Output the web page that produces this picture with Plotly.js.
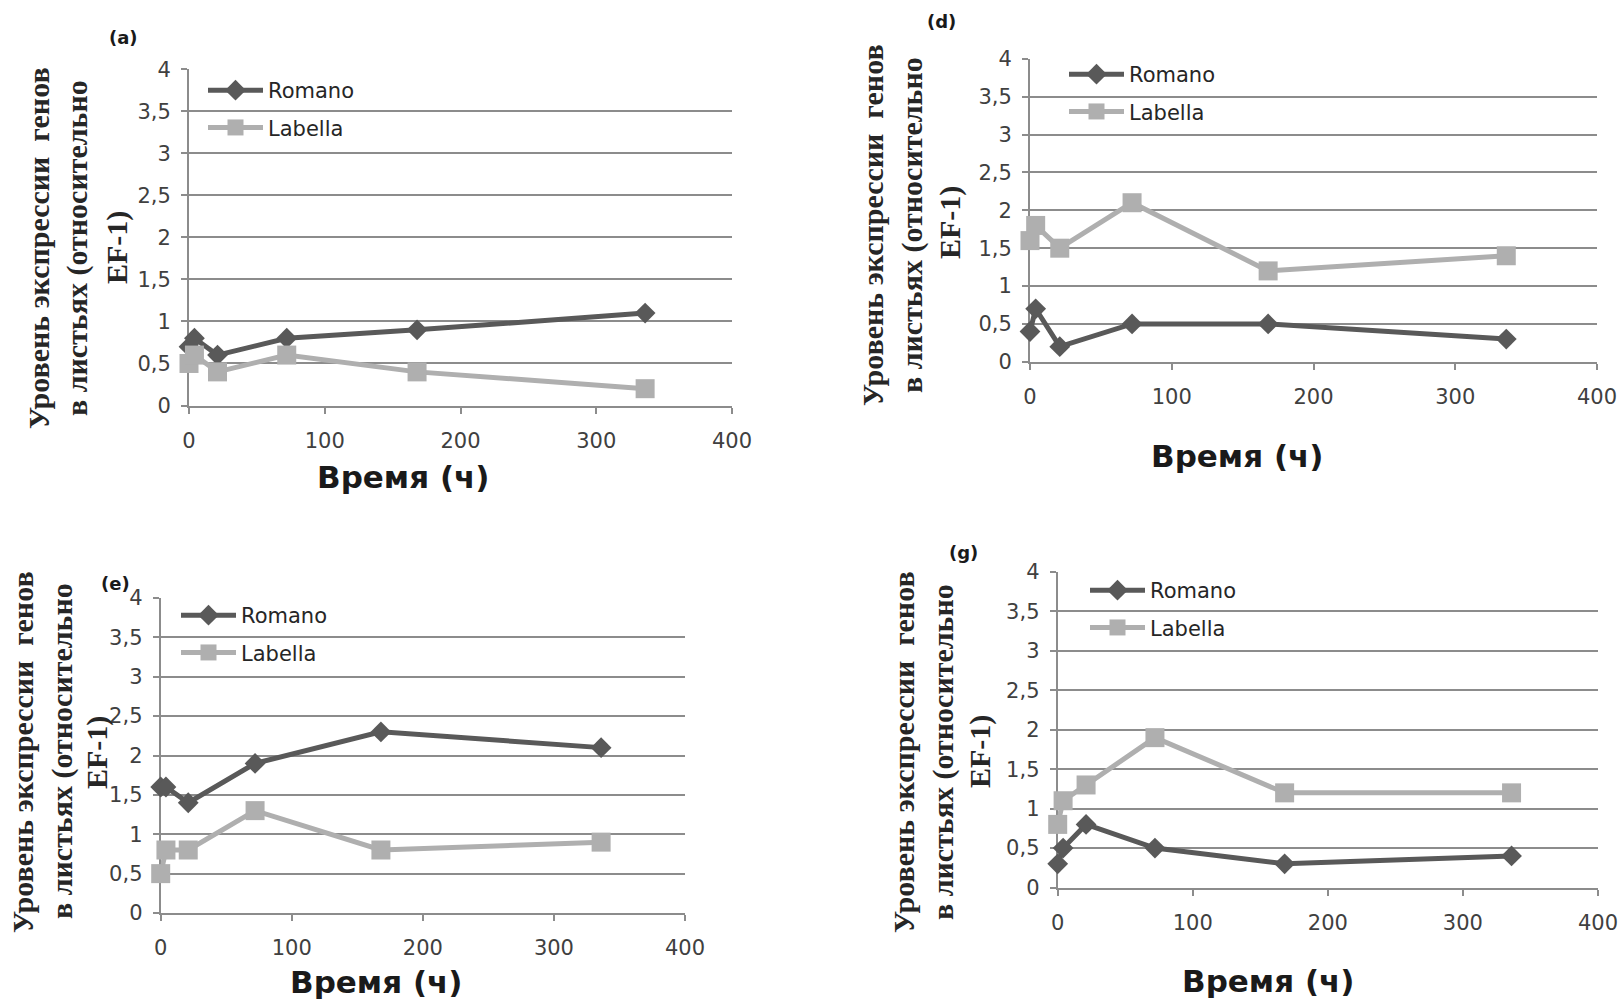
<!DOCTYPE html>
<html>
<head>
<meta charset="utf-8">
<script src="https://cdn.plot.ly/plotly-3.0.1.min.js"></script>
<style>html,body{margin:0;padding:0;background:#fff;}#chart{width:1621px;height:1005px;}</style>
</head>
<body>
<div id="chart"></div>
<script>
// ---- data ----
const timeHours = [0, 4, 21, 72, 168, 336];
const romanoA  = [0.7, 0.8, 0.6, 0.8, 0.9, 1.1];
const labellaA = [0.5, 0.6, 0.4, 0.6, 0.4, 0.2];
const romanoD  = [0.4, 0.7, 0.2, 0.5, 0.5, 0.3];
const labellaD = [1.6, 1.8, 1.5, 2.1, 1.2, 1.4];
const romanoE  = [1.6, 1.6, 1.4, 1.9, 2.3, 2.1];
const labellaE = [0.5, 0.8, 0.8, 1.3, 0.8, 0.9];
const romanoG  = [0.3, 0.5, 0.8, 0.5, 0.3, 0.4];
const labellaG = [0.8, 1.1, 1.3, 1.9, 1.2, 1.2];
const seriesNames = ['Romano', 'Labella'];
const panelLabels = ['(a)', '(d)', '(e)', '(g)'];
const yTickVals = [0, 0.5, 1, 1.5, 2, 2.5, 3, 3.5, 4];
const yTickText = ['0', '0,5', '1', '1,5', '2', '2,5', '3', '3,5', '4'];
const xTickVals = [0, 100, 200, 300, 400];
const xTickText = ['0', '100', '200', '300', '400'];
const yTitleLines = ['Уровень экспрессии\u00a0\u00a0генов', 'в листьях (относительно', 'EF-1)'];
const xTitle = 'Время (ч)';

// ---- layout geometry (pixels) ----
const W = 1621, H = 1005;
const px = v => v / W;
const py = v => 1 - v / H;
const panels = [
  {x0: 189, x1: 732, yTop: 69.3, yBot: 405.5, r: romanoA, l: labellaA,
   yt: [[38,248],[77,248],[117,248]], xt: [403,477], lab: [123,37], leg: [203, 70]},
  {x0: 1030, x1: 1597, yTop: 58.8, yBot: 361.8, r: romanoD, l: labellaD,
   yt: [[873,225],[912,225],[950,223]], xt: [1237,456], lab: [942,22], leg: [1064, 54]},
  {x0: 160.7, x1: 685, yTop: 598, yBot: 913, r: romanoE, l: labellaE,
   yt: [[22,752],[62,751],[97,753]], xt: [376,982], lab: [115,583], leg: [176, 595]},
  {x0: 1057.7, x1: 1598, yTop: 572, yBot: 887.5, r: romanoG, l: labellaG,
   yt: [[903,752],[943,752],[980,752]], xt: [1268,981], lab: [963,552], leg: [1085, 570]}
];

const romanoColor = '#595959';
const labellaColor = '#afafaf';
const gridColor = '#8c8c8c';
const tickFont = {family: 'DejaVu Sans', size: 21, color: '#404040'};

const data = [];
const layout = {
  width: W, height: H,
  margin: {l: 0, r: 0, t: 0, b: 0},
  paper_bgcolor: '#ffffff', plot_bgcolor: '#ffffff',
  showlegend: true, hovermode: false,
  annotations: []
};

panels.forEach((p, i) => {
  const n = i === 0 ? '' : String(i + 1);
  const legName = 'legend' + n;
  data.push({
    x: timeHours, y: p.r, name: seriesNames[0], type: 'scatter', mode: 'lines+markers',
    xaxis: 'x' + n, yaxis: 'y' + n, legend: legName, legendgroup: 'r' + i, cliponaxis: false,
    line: {color: romanoColor, width: 5},
    marker: {symbol: 'diamond', size: 16, color: romanoColor}
  });
  data.push({
    x: timeHours, y: p.l, name: seriesNames[1], type: 'scatter', mode: 'lines+markers',
    xaxis: 'x' + n, yaxis: 'y' + n, legend: legName, legendgroup: 'l' + i, cliponaxis: false,
    line: {color: labellaColor, width: 5},
    marker: {symbol: 'square', size: 19, color: labellaColor}
  });
  layout['xaxis' + n] = {
    domain: [px(p.x0), px(p.x1)], anchor: 'y' + n, range: [0, 400],
    tickvals: xTickVals, ticktext: xTickText, tickfont: tickFont,
    showgrid: false, zeroline: false, showline: true, linecolor: gridColor, linewidth: 2,
    ticks: 'outside', ticklen: 6, tickwidth: 2, tickcolor: gridColor,
    ticklabelstandoff: 9, layer: 'below traces', fixedrange: true
  };
  layout['yaxis' + n] = {
    domain: [py(p.yBot), py(p.yTop)], anchor: 'x' + n, range: [0, 4],
    tickvals: yTickVals, ticktext: yTickText, tickfont: tickFont,
    showgrid: true, gridcolor: gridColor, gridwidth: 2, zeroline: false,
    showline: true, linecolor: gridColor, linewidth: 2,
    ticks: 'outside', ticklen: 6, tickwidth: 2, tickcolor: gridColor,
    ticklabelstandoff: 6, layer: 'below traces', fixedrange: true
  };
  layout[legName] = {
    x: px(p.leg[0]), y: py(p.leg[1]), xanchor: 'left', yanchor: 'top',
    bgcolor: 'rgba(0,0,0,0)', borderwidth: 0,
    font: {family: 'DejaVu Sans', size: 21, color: '#262626'},
    tracegroupgap: 7, itemwidth: 55, traceorder: 'grouped'
  };
  // y-axis title lines
  p.yt.forEach((pos, k) => {
    layout.annotations.push({
      xref: 'paper', yref: 'paper', x: px(pos[0]), y: py(pos[1]),
      xanchor: 'center', yanchor: 'middle', textangle: -90, showarrow: false,
      text: '<b>' + yTitleLines[k] + '</b>',
      font: {family: 'Liberation Serif', size: 30, color: '#262626'}
    });
  });
  // x-axis title
  layout.annotations.push({
    xref: 'paper', yref: 'paper', x: px(p.xt[0]), y: py(p.xt[1]),
    xanchor: 'center', yanchor: 'middle', showarrow: false,
    text: '<b>' + xTitle + '</b>',
    font: {family: 'DejaVu Sans', size: 31, color: '#1a1a1a'}
  });
  // panel label
  layout.annotations.push({
    xref: 'paper', yref: 'paper', x: px(p.lab[0]), y: py(p.lab[1]),
    xanchor: 'center', yanchor: 'middle', showarrow: false,
    text: '<b>' + panelLabels[i] + '</b>',
    font: {family: 'DejaVu Sans', size: 18, color: '#1a1a1a'}
  });
});

Plotly.newPlot('chart', data, layout, {staticPlot: true, displayModeBar: false});
</script>
</body>
</html>
